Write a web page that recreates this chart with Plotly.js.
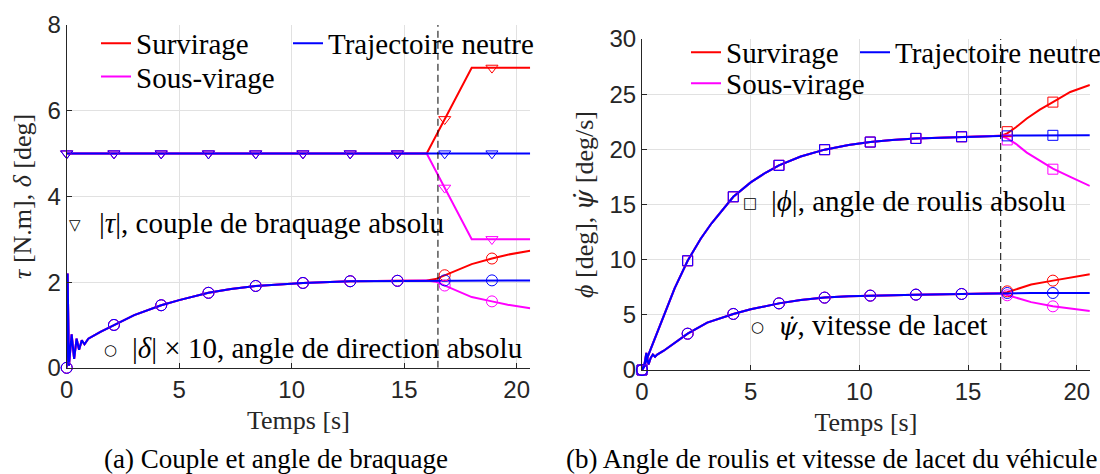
<!DOCTYPE html>
<html><head><meta charset="utf-8">
<script src="https://cdn.plot.ly/plotly-3.0.1.min.js"></script>
<style>html,body{margin:0;padding:0;background:#fff}#chart{width:1100px;height:474px}</style>
</head><body><div id="chart"></div>
<script>
// ---------------- data ----------------
const switchTime = 16.5;                       // dashed vertical line [s]
const xRange = [0, 20.6];
const yRangeA = [0, 8];
const yRangeB = [0, 30];
const xTicks = [0, 5, 10, 15, 20];
const yTicksA = [0, 2, 4, 6, 8];
const yTicksB = [0, 5, 10, 15, 20, 25, 30];
const markTimes = [0, 2.1, 4.2, 6.3, 8.4, 10.5, 12.6, 14.7, 16.8, 18.9];

const seriesNames = ['Survirage', 'Sous-virage', 'Trajectoire neutre'];

// (a) |tau| steering torque [N.m]
const tauTime = [0, 16, 18, 20.6];
const tauSur = [5, 5, 7, 7];
const tauSous = [5, 5, 3, 3];
const tauNeutre = [5, 5, 5, 5];
const tauMarkSur = [5, 5, 5, 5, 5, 5, 5, 5, 5.8, 7];
const tauMarkSous = [5, 5, 5, 5, 5, 5, 5, 5, 4.2, 3];
const tauMarkNeutre = [5, 5, 5, 5, 5, 5, 5, 5, 5, 5];

// (a) |delta| x 10 steering angle
const deltaTimeCommon = [0, 0.04, 0.1, 0.22, 0.33, 0.44, 0.55, 0.67, 0.79, 0.96, 1.5, 2.1, 3.0, 4.2, 5.0, 6.3, 7.3, 8.4, 9.5, 10.5, 12.6, 14.7, 16.0];
const deltaCommon = [0, 2.2, 0.05, 0.78, 0.21, 0.68, 0.42, 0.64, 0.55, 0.68, 0.84, 1.0, 1.23, 1.46, 1.58, 1.75, 1.84, 1.91, 1.95, 1.98, 2.02, 2.03, 2.04];
const deltaTimeTail = [16.4, 16.8, 17.4, 18.0, 18.9, 19.6, 20.6];
const deltaSurTail = [2.07, 2.16, 2.30, 2.42, 2.55, 2.64, 2.73];
const deltaSousTail = [2.01, 1.92, 1.77, 1.65, 1.55, 1.47, 1.39];
const deltaNeutreTail = [2.04, 2.04, 2.04, 2.04, 2.04, 2.04, 2.04];
const deltaMarkSur = [0, 1.0, 1.46, 1.75, 1.91, 1.98, 2.02, 2.03, 2.16, 2.55];
const deltaMarkSous = [0, 1.0, 1.46, 1.75, 1.91, 1.98, 2.02, 2.03, 1.92, 1.55];
const deltaMarkNeutre = [0, 1.0, 1.46, 1.75, 1.91, 1.98, 2.02, 2.03, 2.04, 2.04];

// (b) |phi| roll angle [deg]
const phiTimeCommon = [0, 0.1, 0.2, 0.5, 1.0, 1.5, 2.1, 2.7, 3.2, 4.2, 5.0, 5.7, 6.3, 7.3, 8.4, 9.5, 10.5, 11.5, 12.6, 14.7, 16.5];
const phiCommon = [0, 0.3, 0.9, 2.4, 5.0, 7.4, 9.9, 11.9, 13.3, 15.7, 17.0, 17.9, 18.55, 19.35, 19.97, 20.4, 20.66, 20.85, 20.99, 21.14, 21.22];
const phiTimeTail = [16.8, 17.2, 17.7, 18.3, 18.9, 19.7, 20.6];
const phiSurTail = [21.45, 22.0, 22.8, 23.6, 24.28, 25.2, 25.84];
const phiSousTail = [21.0, 20.5, 19.7, 18.95, 18.25, 17.5, 16.68];
const phiNeutreTail = [21.24, 21.25, 21.26, 21.27, 21.27, 21.27, 21.27];
const phiMarkSur = [0, 9.9, 15.7, 18.55, 19.97, 20.66, 20.99, 21.14, 21.6, 24.28];
const phiMarkSous = [0, 9.9, 15.7, 18.55, 19.97, 20.66, 20.99, 21.14, 20.85, 18.2];
const phiMarkNeutre = [0, 9.9, 15.7, 18.55, 19.97, 20.66, 20.99, 21.14, 21.22, 21.27];

// (b) yaw rate psi-dot [deg/s]
const psiTimeCommon = [0, 0.12, 0.2, 0.3, 0.4, 0.5, 0.6, 0.7, 1.0, 1.5, 2.1, 3.0, 4.2, 5.0, 6.3, 7.3, 8.4, 9.5, 10.5, 12.6, 14.7, 16.5];
const psiCommon = [0, 0.6, 1.55, 0.5, 1.1, 1.4, 1.2, 1.4, 1.75, 2.45, 3.3, 4.3, 5.08, 5.5, 6.04, 6.35, 6.56, 6.68, 6.74, 6.83, 6.89, 6.95];
const psiTimeTail = [16.8, 17.3, 17.9, 18.9, 19.7, 20.6];
const psiSurTail = [7.05, 7.4, 7.75, 8.1, 8.4, 8.68];
const psiSousTail = [6.8, 6.5, 6.15, 5.77, 5.55, 5.35];
const psiNeutreTail = [6.97, 6.97, 6.97, 6.97, 6.97, 6.97];
const psiMarkSur = [0, 3.29, 5.08, 6.04, 6.56, 6.74, 6.83, 6.89, 7.13, 8.1];
const psiMarkSous = [0, 3.29, 5.08, 6.04, 6.56, 6.74, 6.83, 6.89, 6.77, 5.77];
const psiMarkNeutre = [0, 3.29, 5.08, 6.04, 6.56, 6.74, 6.83, 6.89, 6.98, 6.98];

// ---------------- styling ----------------
const colors = ['#ff0000', '#ff00ff', '#0000ff'];
const SERIF = 'Liberation Serif, Times New Roman, serif';
const SANS = 'Liberation Sans, Arial, sans-serif';
const AX = '#262626';
const GRID = '#e1e1e1';
const W = 1100, H = 474;
const px = v => v / W;
const py = v => 1 - v / H;
const PSIDOT = '<span style="font-family:DejaVu Serif">ψ̇</span>';
const PSIDOT_ANN = '<span style="font-family:DejaVu Serif;font-size:25px">ψ̇</span>';

const traces = [];
function lineTrace(x, y, color, xa, ya, name, legend, show) {
  return {type: 'scatter', mode: 'lines', x: x, y: y, xaxis: xa, yaxis: ya,
    line: {color: color, width: 2}, name: name, showlegend: show, legend: legend,
    cliponaxis: true, hoverinfo: 'skip'};
}
function markTrace(y, color, symbol, size, xa, ya) {
  return {type: 'scatter', mode: 'markers', x: markTimes, y: y, xaxis: xa, yaxis: ya,
    marker: {symbol: symbol, size: size, color: color, line: {color: color, width: 1}},
    showlegend: false, cliponaxis: false, hoverinfo: 'skip'};
}

const legA = ['legend', 'legend2', 'legend3'];
const legB = ['legend4', 'legend5', 'legend6'];
const tauSeries = [tauSur, tauSous, tauNeutre];
const deltaTails = [deltaSurTail, deltaSousTail, deltaNeutreTail];
const phiTails = [phiSurTail, phiSousTail, phiNeutreTail];
const psiTails = [psiSurTail, psiSousTail, psiNeutreTail];
for (let i = 0; i < 3; i++) {
  traces.push(lineTrace(tauTime, tauSeries[i], colors[i], 'x', 'y', seriesNames[i], legA[i], true));
  traces.push(lineTrace(deltaTimeCommon.concat(deltaTimeTail), deltaCommon.concat(deltaTails[i]), colors[i], 'x', 'y', seriesNames[i], legA[i], false));
  traces.push(lineTrace(phiTimeCommon.concat(phiTimeTail), phiCommon.concat(phiTails[i]), colors[i], 'x2', 'y2', seriesNames[i], legB[i], true));
  traces.push(lineTrace(psiTimeCommon.concat(psiTimeTail), psiCommon.concat(psiTails[i]), colors[i], 'x2', 'y2', seriesNames[i], legB[i], false));
}
// dashed switch lines
traces.push({type: 'scatter', mode: 'lines', x: [switchTime, switchTime], y: yRangeA, xaxis: 'x', yaxis: 'y',
  line: {color: '#000', width: 1, dash: '7px,4px'}, showlegend: false, hoverinfo: 'skip'});
traces.push({type: 'scatter', mode: 'lines', x: [switchTime, switchTime], y: yRangeB, xaxis: 'x2', yaxis: 'y2',
  line: {color: '#000', width: 1, dash: '7px,4px'}, showlegend: false, hoverinfo: 'skip'});
// markers
const tauMarks = [tauMarkSur, tauMarkSous, tauMarkNeutre];
const deltaMarks = [deltaMarkSur, deltaMarkSous, deltaMarkNeutre];
const phiMarks = [phiMarkSur, phiMarkSous, phiMarkNeutre];
const psiMarks = [psiMarkSur, psiMarkSous, psiMarkNeutre];
for (let i = 0; i < 3; i++) {
  traces.push(markTrace(tauMarks[i], colors[i], 'triangle-down-open', 10.5, 'x', 'y'));
  traces.push(markTrace(deltaMarks[i], colors[i], 'circle-open', 11, 'x', 'y'));
  traces.push(markTrace(phiMarks[i], colors[i], 'square-open', 10, 'x2', 'y2'));
  traces.push(markTrace(psiMarks[i], colors[i], 'circle-open', 11, 'x2', 'y2'));
}

function axisBase(extra) {
  return Object.assign({
    showline: true, linecolor: AX, linewidth: 1, mirror: false,
    showgrid: true, gridcolor: GRID, gridwidth: 1, zeroline: false,
    ticks: 'inside', ticklen: 5, tickcolor: AX, tickwidth: 1,
    tickfont: {family: SANS, size: 24, color: AX}, fixedrange: true
  }, extra);
}
const titleFont = {family: SERIF, size: 26, color: AX};

function legendAt(xPx, yPx) {
  return {x: px(xPx), y: py(yPx), xanchor: 'left', yanchor: 'middle', xref: 'paper', yref: 'paper',
    bgcolor: 'rgba(0,0,0,0)', borderwidth: 0, itemwidth: 30,
    font: {family: SERIF, size: 29, color: '#000'}};
}

const annFont = {family: SERIF, size: 29, color: '#000'};
const capFont = {family: SERIF, size: 27, color: '#000'};
function ann(text, xPx, yPx, anchor, font) {
  return {text: text, x: px(xPx), y: py(yPx), xref: 'paper', yref: 'paper', showarrow: false,
    xanchor: anchor, yanchor: 'middle', font: font || annFont};
}
const glyphFont = {family: 'DejaVu Sans', size: 15, color: '#000'};

const layout = {
  width: W, height: H, margin: {l: 0, r: 0, t: 0, b: 0, autoexpand: false},
  paper_bgcolor: '#fff', plot_bgcolor: '#fff', showlegend: true,
  xaxis: axisBase({domain: [px(66.7), px(66.7 + 20.6 * 22.5)], range: xRange, tickvals: xTicks, anchor: 'y',
    title: {text: 'Temps [s]', font: titleFont, standoff: 9}}),
  yaxis: axisBase({domain: [py(367.8), py(25)], range: yRangeA, tickvals: yTicksA, anchor: 'x',
    title: {text: '<i>τ</i> [N.m], <i>δ</i> [deg]', font: titleFont, standoff: 8}}),
  xaxis2: axisBase({domain: [px(642), px(642 + 20.6 * 21.74)], range: xRange, tickvals: xTicks, anchor: 'y2',
    title: {text: 'Temps [s]', font: titleFont, standoff: 9}}),
  yaxis2: axisBase({domain: [py(370), py(39)], range: yRangeB, tickvals: yTicksB, anchor: 'x2',
    title: {text: '<i>ϕ</i> [deg], <i>' + PSIDOT + '</i> [deg/s]', font: titleFont, standoff: 8}}),
  legend: legendAt(96, 43.3),
  legend2: legendAt(96, 76.7),
  legend3: legendAt(288, 43.3),
  legend4: legendAt(686, 52.3),
  legend5: legendAt(686, 83.3),
  legend6: legendAt(855, 52.3),
  annotations: [
    ann('▽', 75, 225, 'center', glyphFont),
    ann('|<i>τ</i>|, couple de braquage absolu', 97, 223, 'left'),
    ann('○', 110, 350, 'center', glyphFont),
    ann('|<i>δ</i>| × 10, angle de direction absolu', 130, 348, 'left'),
    ann('□', 750, 203, 'center', glyphFont),
    ann('|<i>ϕ</i>|, angle de roulis absolu', 769, 201, 'left'),
    ann('○', 757.7, 327, 'center', glyphFont),
    ann('<i>' + PSIDOT_ANN + '</i>, vitesse de lacet', 776, 325, 'left'),
    ann('(a) Couple et angle de braquage', 276, 459, 'center', capFont),
    ann('(b) Angle de roulis et vitesse de lacet du véhicule', 832, 459, 'center', capFont)
  ]
};

Plotly.newPlot('chart', traces, layout, {displayModeBar: false, staticPlot: true});
</script>
</body></html>
